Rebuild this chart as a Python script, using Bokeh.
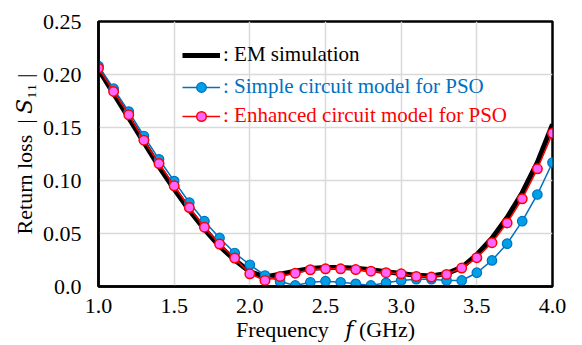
import math
from bokeh.plotting import figure
from bokeh.models import Legend, LegendItem, FixedTicker
from bokeh.embed import file_html
from bokeh.resources import INLINE

freq = [1.0, 1.1, 1.2, 1.3, 1.4, 1.5, 1.6, 1.7, 1.8, 1.9, 2.0,
        2.1, 2.2, 2.3, 2.4, 2.5, 2.6, 2.7, 2.8, 2.9, 3.0,
        3.1, 3.2, 3.3, 3.4, 3.5, 3.6, 3.7, 3.8, 3.9, 4.0]

em_sim = [0.205, 0.182, 0.159, 0.136, 0.113, 0.092, 0.072, 0.054, 0.038, 0.025, 0.014,
          0.009, 0.0115, 0.0145, 0.0170, 0.0180, 0.0180, 0.0172, 0.0158, 0.0140, 0.0122,
          0.0105, 0.0100, 0.0122, 0.0180, 0.0300, 0.0455, 0.0650, 0.0885, 0.1170, 0.1530]

simple = [0.208, 0.1866, 0.165, 0.142, 0.120, 0.0994, 0.0792, 0.0616, 0.0458, 0.0316, 0.0205,
          0.0104, 0.0047, 0.0010, 0.0040, 0.0050, 0.0040, 0.0025, 0.0010, 0.0035, 0.0057,
          0.0069, 0.0069, 0.0057, 0.0057, 0.0130, 0.0246, 0.0404, 0.0616, 0.0868, 0.1170]

enhanced = [0.206, 0.184, 0.162, 0.138, 0.116, 0.095, 0.0745, 0.056, 0.040, 0.0268, 0.012,
            0.0057, 0.0095, 0.0126, 0.0158, 0.0167, 0.0167, 0.0160, 0.0145, 0.0130, 0.0120,
            0.0095, 0.0089, 0.0114, 0.0174, 0.0272, 0.0413, 0.0600, 0.0827, 0.1110, 0.1446]

x_ticks = [1.0, 1.5, 2.0, 2.5, 3.0, 3.5, 4.0]
y_ticks = [0.0, 0.05, 0.10, 0.15, 0.20, 0.25]
x_tick_labels = ["1.0", "1.5", "2.0", "2.5", "3.0", "3.5", "4.0"]
y_tick_labels = ["0.0", "0.05", "0.10", "0.15", "0.20", "0.25"]

legend_labels = [": EM simulation", ": Simple circuit model for PSO", ": Enhanced circuit model for PSO"]
x_title = "Frequency\u00A0\u00A0\u00A0\U0001D453\u00A0(GHz)"
y_title = "Return loss\u00A0\u00A0|\u00A0\U0001D446\u2081\u2081\u00A0|"

FONT = "Liberation Serif"
TITLE_FONT = "Liberation Serif, DejaVu Serif, serif"
BLUE = "#0070C0"
BLUE_FILL = "#00A0E6"
RED = "#FF0000"
PINK = "#FF66FF"

p = figure(width=582, height=345, frame_width=454, frame_height=265,
           x_range=(1.0, 4.0), y_range=(0.0, 0.25),
           output_backend="svg", toolbar_location=None,
           min_border_left=98, min_border_right=30, min_border_top=21, min_border_bottom=59)

p.background_fill_color = "white"
p.border_fill_color = "white"
p.outline_line_color = "black"
p.outline_line_width = 2.5

p.xaxis.ticker = FixedTicker(ticks=x_ticks)
p.yaxis.ticker = FixedTicker(ticks=y_ticks)
p.xaxis.major_label_overrides = {t: l for t, l in zip(x_ticks, x_tick_labels)}
p.yaxis.major_label_overrides = {t: l for t, l in zip(y_ticks, y_tick_labels)}
for ax in (p.xaxis, p.yaxis):
    ax.major_tick_line_color = None
    ax.minor_tick_line_color = None
    ax.axis_line_color = "black"
    ax.axis_line_width = 2.5
    ax.major_label_text_font = FONT
    ax.major_label_text_font_size = "22px"
    ax.major_label_text_color = "black"
    ax.major_label_text_font_style = "normal"
    ax.axis_label_text_font = TITLE_FONT
    ax.axis_label_text_font_size = "22px"
    ax.axis_label_text_font_style = "normal"
    ax.axis_label_text_color = "black"
p.xaxis.major_label_standoff = 6
p.yaxis.major_label_standoff = 11
p.xaxis.axis_label = x_title
p.yaxis.axis_label = y_title
p.xaxis.axis_label_standoff = 1
p.yaxis.axis_label_standoff = 3

p.xgrid.ticker = FixedTicker(ticks=x_ticks)
p.ygrid.ticker = FixedTicker(ticks=y_ticks)
p.grid.grid_line_color = "#D9D9D9"
p.grid.grid_line_width = 1.5

r_em = p.line(freq, em_sim, line_color="black", line_width=5)
r_s_line = p.line(freq, simple, line_color=BLUE, line_width=1.5)
r_s_pts = p.scatter(freq, simple, size=9.5, fill_color=BLUE_FILL, line_color=BLUE, line_width=1.2)
r_e_line = p.line(freq, enhanced, line_color=RED, line_width=1.5)
r_e_pts = p.scatter(freq, enhanced, size=9.5, fill_color=PINK, line_color=RED, line_width=1.5)

legend_specs = [
    ([r_em], "black", 219),
    ([r_s_line, r_s_pts], BLUE, 187),
    ([r_e_line, r_e_pts], RED, 158),
]
for (rends, col, ypos), lab in zip(legend_specs, legend_labels):
    lg = Legend(items=[LegendItem(label=lab, renderers=rends)],
                location=(84, ypos), padding=0, margin=0, spacing=0,
                glyph_width=38, glyph_height=24, label_height=24, label_standoff=3,
                label_text_font=FONT, label_text_font_size="21px", label_text_color=col,
                label_text_font_style="normal",
                background_fill_alpha=0, border_line_alpha=0,
                click_policy="none")
    p.add_layout(lg)

open("out.html", "w").write(file_html(p, INLINE))
